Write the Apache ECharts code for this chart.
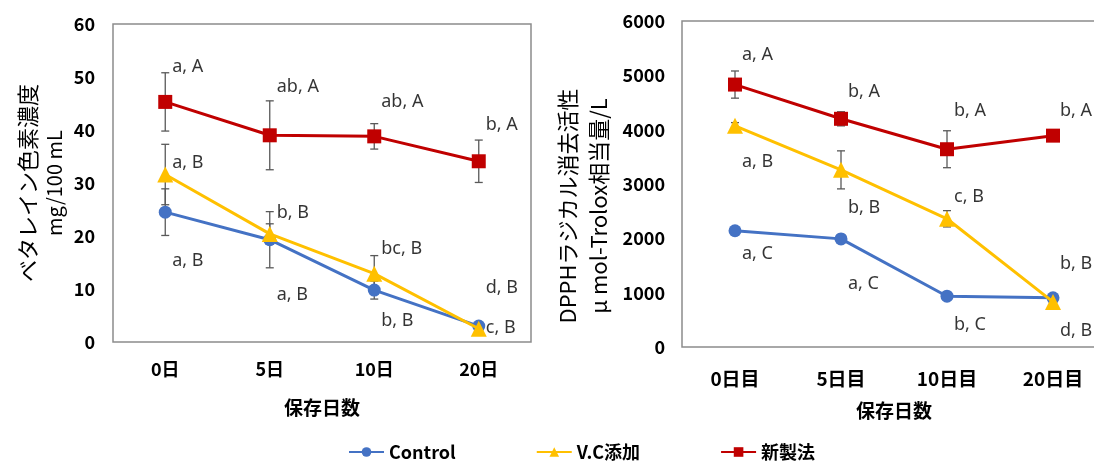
<!DOCTYPE html>
<html>
<head>
<meta charset="utf-8">
<script src="https://cdn.jsdelivr.net/npm/echarts@6/dist/echarts.min.js"></script>
<style>
	html, body { margin:0; padding:0; background:#fff; overflow:hidden; }
	#chart { width:1110px; height:461px; }
</style>
</head>
<body>
<div id="chart"></div>
<script>
	// left chart: betalain pigment concentration
	var catsL = ['0日', '5日', '10日', '20日'];
	var ctrlL = [24.5, 19.3, 9.8, 3.0];
	var vcL = [31.6, 20.4, 12.9, 2.5];
	var newL = [45.3, 39.0, 38.8, 34.1];
	var ctrlErrL = [4.4, 5.3, 1.7, 0.3];
	var vcErrL = [5.7, 1.9, 3.4, 0.3];
	var newErrL = [5.5, 6.5, 2.4, 4.0];
	var annoCatL = [0, 1, 2, 3, 0, 1, 2, 3, 0, 1, 2, 3];
	var annoYL = [51.9, 48.1, 45.3, 40.9, 33.8, 24.3, 17.5, 10.2, 15.3, 8.9, 4.0, 2.6];
	var annoTextL = ['a, A', 'ab, A', 'ab, A', 'b, A', 'a, B', 'b, B', 'bc, B', 'd, B', 'a, B', 'a, B', 'b, B', 'c, B'];

	// right chart: DPPH radical scavenging activity
	var catsR = ['0日目', '5日目', '10日目', '20日目'];
	var ctrlR = [2140, 1990, 935, 905];
	var vcR = [4070, 3260, 2360, 830];
	var newR = [4830, 4200, 3640, 3890];
	var ctrlErrR = [40, 80, 50, 40];
	var vcErrR = [60, 350, 150, 40];
	var newErrR = [250, 130, 340, 50];
	var annoCatR = [0, 1, 2, 3, 0, 1, 2, 3, 0, 1, 2, 3];
	var annoYR = [5372, 4689, 4338, 4338, 3415, 2554, 2769, 295, 1723, 1169, 400, 1538];
	var annoTextR = ['a, A', 'b, A', 'b, A', 'b, A', 'a, B', 'b, B', 'c, B', 'd, B', 'a, C', 'a, C', 'b, C', 'b, B'];

	var names = ['Control', 'V.C添加', '新製法'];
	var colors = ['#4472C4', '#FFC000', '#C00000'];
	var symbols = ['circle', 'triangle', 'rect'];
	var symbolSizes = [13, 16, 14];
	var jp = '"Noto Sans CJK JP", "Noto Sans", sans-serif';

	function $each(arr, fn){ for(var i = 0; i < arr.length; i++){ fn(i, arr[i]); } }

	function errData(vals, errs){
		var out = [];
		$each(vals, function(i, v){ out.push([i, v - errs[i], v + errs[i]]); });
		return out;
	}

	function renderErr(params, api){
		var lo = api.coord([api.value(0), api.value(1)]);
		var hi = api.coord([api.value(0), api.value(2)]);
		var w = 4;
		var st = { stroke:'#595959', lineWidth:1.3 };
		return {
			type:'group',
			children:[
				{ type:'line', shape:{ x1:hi[0], y1:hi[1], x2:lo[0], y2:lo[1] }, style:st },
				{ type:'line', shape:{ x1:hi[0]-w, y1:hi[1], x2:hi[0]+w, y2:hi[1] }, style:st },
				{ type:'line', shape:{ x1:lo[0]-w, y1:lo[1], x2:lo[0]+w, y2:lo[1] }, style:st }
			]
		};
	}

	function annoData(cats, ys, texts){
		var out = [];
		$each(cats, function(i, c){ out.push({ value:[c, ys[i]], name:texts[i] }); });
		return out;
	}

	var series = [];
	function addChart(idx, lines, errs, annoCats, annoYs, annoTexts){
		$each(lines, function(i, vals){
			series.push({
				type:'custom', xAxisIndex:idx, yAxisIndex:idx, z:1, silent:true,
				renderItem:renderErr, data:errData(vals, errs[i])
			});
		});
		$each(lines, function(i, vals){
			series.push({
				name:names[i], type:'line', xAxisIndex:idx, yAxisIndex:idx, z:2 + i,
				data:vals, symbol:symbols[i], symbolSize:symbolSizes[i], showSymbol:true,
				itemStyle:{ color:colors[i] },
				lineStyle:{ color:colors[i], width:3 }
			});
		});
		series.push({
			type:'scatter', xAxisIndex:idx, yAxisIndex:idx, z:10, symbolSize:0, silent:true,
			data:annoData(annoCats, annoYs, annoTexts),
			label:{
				show:true, position:'right', distance:7,
				formatter:function(p){ return p.name; },
				color:'#000', fontSize:18, fontFamily:'"Noto Sans", sans-serif'
			}
		});
	}
	addChart(0, [ctrlL, vcL, newL], [ctrlErrL, vcErrL, newErrL], annoCatL, annoYL, annoTextL);
	addChart(1, [ctrlR, vcR, newR], [ctrlErrR, vcErrR, newErrR], annoCatR, annoYR, annoTextR);

	var myEchart = echarts.init(document.getElementById('chart'));
	var option = {
		animation:false,
		textStyle:{ fontFamily:jp },
		legend:{
			data:names, left:343, top:438, itemWidth:35, itemHeight:12, itemGap:80,
			textStyle:{ fontSize:18, fontWeight:'bold', color:'#000', fontFamily:jp }
		},
		grid:[
			{ left:113, top:24, width:418, height:318, show:true, borderColor:'#8c8c8c', borderWidth:1.5 },
			{ left:682, top:21, width:424, height:326, show:true, borderColor:'#8c8c8c', borderWidth:1.5 }
		],
		xAxis:[
			{
				type:'category', gridIndex:0, data:catsL,
				axisLine:{ show:false }, axisTick:{ show:false },
				axisLabel:{ margin:18, fontSize:18, fontWeight:'bold', color:'#000' },
				name:'保存日数', nameLocation:'middle', nameGap:56,
				nameTextStyle:{ fontSize:19, fontWeight:'bold', color:'#000' }
			},
			{
				type:'category', gridIndex:1, data:catsR,
				axisLine:{ show:false }, axisTick:{ show:false },
				axisLabel:{ margin:22, fontSize:19, fontWeight:'bold', color:'#000' },
				name:'保存日数', nameLocation:'middle', nameGap:54,
				nameTextStyle:{ fontSize:19, fontWeight:'bold', color:'#000' }
			}
		],
		yAxis:[
			{
				type:'value', gridIndex:0, min:0, max:60, interval:10,
				axisLine:{ show:false }, axisTick:{ show:false }, splitLine:{ show:false },
				axisLabel:{ margin:18, fontSize:18, fontWeight:'bold', color:'#000' },
				name:'{a|ベタレイン色素濃度}\n{b|mg/100 mL}', nameLocation:'middle', nameRotate:90, nameGap:47,
				nameTextStyle:{
					color:'#000',
					rich:{
						a:{ fontSize:22, lineHeight:28, color:'#000', fontFamily:jp },
						b:{ fontSize:20, lineHeight:24, color:'#000', fontFamily:jp }
					}
				}
			},
			{
				type:'value', gridIndex:1, min:0, max:6000, interval:1000,
				axisLine:{ show:false }, axisTick:{ show:false }, splitLine:{ show:false },
				axisLabel:{
					margin:17, fontSize:18, fontWeight:'bold', color:'#000',
					formatter:function(v){ return String(v); }
				},
				name:'{a|DPPHラジカル消去活性}\n{b|μ mol-Trolox相当量/L}', nameLocation:'middle', nameRotate:90, nameGap:70,
				nameTextStyle:{
					color:'#000',
					padding:[0, 44, 0, 0],
					rich:{
						a:{ fontSize:22, lineHeight:36, color:'#000', fontFamily:jp },
						b:{ fontSize:22, lineHeight:26, color:'#000', fontFamily:jp }
					}
				}
			}
		],
		series:series
	};
	myEchart.setOption(option);
</script>
</body>
</html>
